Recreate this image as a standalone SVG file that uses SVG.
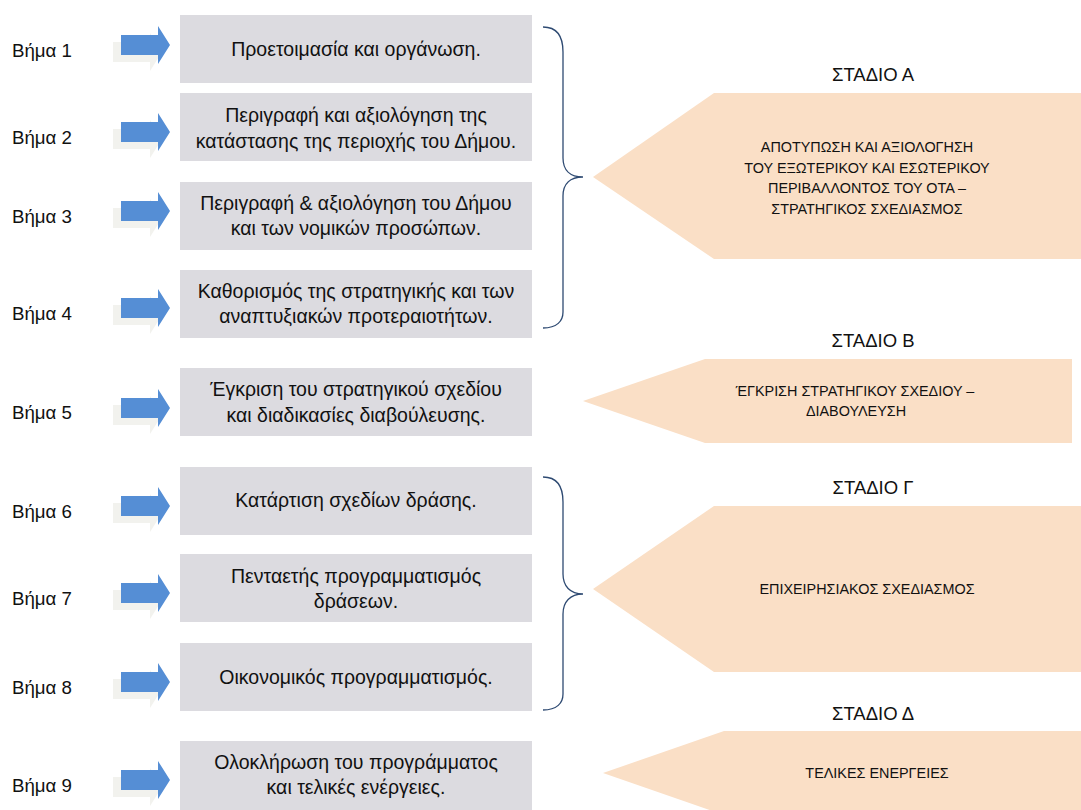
<svg xmlns="http://www.w3.org/2000/svg" width="1081" height="810" viewBox="0 0 1081 810">
<style>
  text { font-family: "Liberation Sans", "Noto Sans", sans-serif; fill: #111111; }
  .lbl { font-size: 18.7px; }
  .box { fill: #DCDBE0; }
  .bt { font-size: 19.5px; text-anchor: middle; }
  .pent { fill: #FADFC6; }
  .pt { font-size: 14.4px; text-anchor: middle; }
  .hd { font-size: 18.5px; text-anchor: middle; }
  .brace { fill: none; stroke: #2E4A72; stroke-width: 1.3; }
</style>
<defs>
  <g id="arr">
    <path d="M113,-3 H150 V-12 L162,7 L150,26 V17 H113 Z" fill="#F2F2EE"/>
    <path d="M121,-10 H158 V-19 L170,0 L158,19 V10 H121 Z" fill="#558ED5"/>
  </g>
</defs>
<rect width="1081" height="810" fill="#FFFFFF"/>

<g id="step1">
  <text class="lbl" x="12" y="57">Βήμα 1</text>
  <use href="#arr" transform="translate(0,45)"/>
  <rect class="box" x="180" y="15" width="352" height="68"/>
  <text class="bt" x="356" y="56">Προετοιμασία και οργάνωση.</text>
</g>
<g id="step2">
  <text class="lbl" x="12" y="144">Βήμα 2</text>
  <use href="#arr" transform="translate(0,132)"/>
  <rect class="box" x="180" y="93" width="352" height="68"/>
  <text class="bt" x="356" y="122">Περιγραφή και αξιολόγηση της</text>
  <text class="bt" x="356" y="148">κατάστασης της περιοχής του Δήμου.</text>
</g>
<g id="step3">
  <text class="lbl" x="12" y="223">Βήμα 3</text>
  <use href="#arr" transform="translate(0,211)"/>
  <rect class="box" x="180" y="182" width="352" height="68"/>
  <text class="bt" x="356" y="210">Περιγραφή &amp; αξιολόγηση του Δήμου</text>
  <text class="bt" x="356" y="235">και των νομικών προσώπων.</text>
</g>
<g id="step4">
  <text class="lbl" x="12" y="320">Βήμα 4</text>
  <use href="#arr" transform="translate(0,308)"/>
  <rect class="box" x="180" y="270" width="352" height="68"/>
  <text class="bt" x="356" y="298">Καθορισμός της στρατηγικής και των</text>
  <text class="bt" x="356" y="323">αναπτυξιακών προτεραιοτήτων.</text>
</g>
<g id="step5">
  <text class="lbl" x="12" y="419">Βήμα 5</text>
  <use href="#arr" transform="translate(0,408)"/>
  <rect class="box" x="180" y="368" width="352" height="68"/>
  <text class="bt" x="356" y="396">Έγκριση του στρατηγικού σχεδίου</text>
  <text class="bt" x="356" y="422">και διαδικασίες διαβούλευσης.</text>
</g>
<g id="step6">
  <text class="lbl" x="12" y="518">Βήμα 6</text>
  <use href="#arr" transform="translate(0,506)"/>
  <rect class="box" x="180" y="467" width="352" height="68"/>
  <text class="bt" x="356" y="507">Κατάρτιση σχεδίων δράσης.</text>
</g>
<g id="step7">
  <text class="lbl" x="12" y="605">Βήμα 7</text>
  <use href="#arr" transform="translate(0,593)"/>
  <rect class="box" x="180" y="554" width="352" height="68"/>
  <text class="bt" x="356" y="583">Πενταετής προγραμματισμός</text>
  <text class="bt" x="356" y="608">δράσεων.</text>
</g>
<g id="step8">
  <text class="lbl" x="12" y="694">Βήμα 8</text>
  <use href="#arr" transform="translate(0,682)"/>
  <rect class="box" x="180" y="643" width="352" height="68"/>
  <text class="bt" x="356" y="684">Οικονομικός προγραμματισμός.</text>
</g>
<g id="step9">
  <text class="lbl" x="12" y="792">Βήμα 9</text>
  <use href="#arr" transform="translate(0,780)"/>
  <rect class="box" x="180" y="741" width="352" height="69"/>
  <text class="bt" x="356" y="769">Ολοκλήρωση του προγράμματος</text>
  <text class="bt" x="356" y="794">και τελικές ενέργειες.</text>
</g>

<g id="connectors">
  <path class="brace" d="M543,27 C557,27 563,36 563,52 L563,158 C563,170 570,177 583,177 C570,177 563,184 563,196 L563,312 C563,321 557,328 543,328"/>
  <path class="brace" d="M543,477 C557,477 563,486 563,502 L563,574 C563,586 570,594 583,594 C570,594 563,602 563,614 L563,694 C563,703 557,710 543,710"/>
</g>

<g id="stageA">
  <text class="hd" x="873" y="81">ΣΤΑΔΙΟ Α</text>
  <path class="pent" d="M593,177 L714,93 H1081 V259 H714 Z"/>
  <text class="pt" x="867" y="152">ΑΠΟΤΥΠΩΣΗ ΚΑΙ ΑΞΙΟΛΟΓΗΣΗ</text>
  <text class="pt" x="867" y="172.5">ΤΟΥ ΕΞΩΤΕΡΙΚΟΥ ΚΑΙ ΕΣΩΤΕΡΙΚΟΥ</text>
  <text class="pt" x="867" y="193">ΠΕΡΙΒΑΛΛΟΝΤΟΣ ΤΟΥ ΟΤΑ –</text>
  <text class="pt" x="867" y="213.5">ΣΤΡΑΤΗΓΙΚΟΣ ΣΧΕΔΙΑΣΜΟΣ</text>
</g>
<g id="stageB">
  <text class="hd" x="873" y="347">ΣΤΑΔΙΟ Β</text>
  <path class="pent" d="M583,401 L705,359 H1072 V443 H705 Z"/>
  <text class="pt" x="855" y="396">ΈΓΚΡΙΣΗ ΣΤΡΑΤΗΓΙΚΟΥ ΣΧΕΔΙΟΥ –</text>
  <text class="pt" x="856" y="416">ΔΙΑΒΟΥΛΕΥΣΗ</text>
</g>
<g id="stageC">
  <text class="hd" x="873" y="494">ΣΤΑΔΙΟ Γ</text>
  <path class="pent" d="M593,589 L714,506 H1081 V672 H714 Z"/>
  <text class="pt" x="867" y="594">ΕΠΙΧΕΙΡΗΣΙΑΚΟΣ ΣΧΕΔΙΑΣΜΟΣ</text>
</g>
<g id="stageD">
  <text class="hd" x="873" y="720">ΣΤΑΔΙΟ Δ</text>
  <path class="pent" d="M603,773 L724,731 H1081 V815 H724 Z"/>
  <text class="pt" x="877" y="778">ΤΕΛΙΚΕΣ ΕΝΕΡΓΕΙΕΣ</text>
</g>
</svg>
